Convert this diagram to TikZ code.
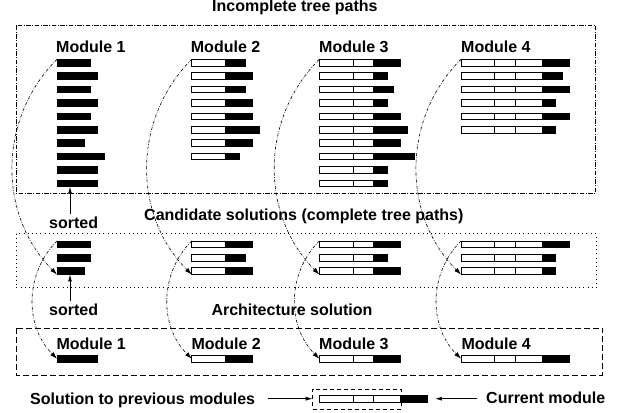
\documentclass[tikz,border=0pt]{standalone}
\usepackage{fontspec}
\setmainfont{Liberation Sans}
\usetikzlibrary{arrows.meta,calc}
\newcommand\un{6.76}
\newcommand\hh{3.38}
\tikzset{
  barnode/.style={draw=black, fill=black, line width=0.8pt, inner sep=0pt, outer sep=0pt,
    minimum height=6.76pt, anchor=west, rectangle},
  wseg/.style={draw=black, fill=white, line width=0.8pt},
  lbl/.style={font=\bfseries\fontsize{16}{19}\selectfont, inner sep=0pt, anchor=base west},
  arcarrow/.style={line width=0.6pt, dash pattern=on 3pt off 1.5pt on 0.6pt off 1.5pt,
    -{Latex[length=7pt,width=4.5pt]}},
  sarrow/.style={line width=0.8pt, -{Latex[length=7pt,width=4pt]}},
  dashdotbox/.style={line width=0.7pt, dash pattern=on 4.5pt off 1.5pt on 1pt off 1.5pt},
  dotbox/.style={line width=0.8pt, dash pattern=on 0.8pt off 3.4pt},
  dashbox/.style={line width=0.8pt, dash pattern=on 6pt off 3pt},
  smalldash/.style={draw, line width=0.7pt, dash pattern=on 4pt off 3pt, inner sep=0pt,
    outer sep=0pt, rectangle},
}
% name, x0, y, nseg, white units, black units
\newcommand\mbar[6]{%
  \pgfmathsetmacro\bw{(#5+#6)*\un}%
  \pgfmathsetmacro\yy{#3}%
  \node[barnode, minimum width=\bw pt] (#1) at (#2,\yy) {};
  \ifcase#4\relax
  \or \draw[wseg] (#2,\yy) ++(0,-\hh) rectangle ++(5*\un,2*\hh);
  \or \draw[wseg] (#2,\yy) ++(0,-\hh) rectangle ++(5*\un,2*\hh) rectangle ++(3*\un,-2*\hh);
  \or \draw[wseg] (#2,\yy) ++(0,-\hh) rectangle ++(5*\un,2*\hh) rectangle ++(3*\un,-2*\hh) rectangle ++(4*\un,2*\hh);
  \fi}
\begin{document}
\begin{tikzpicture}[x=1pt,y=-1pt]
\useasboundingbox (0,0) rectangle (620,412);
% frames
\draw[dashdotbox] (16,25.7) rectangle (595.7,193);
\draw[dotbox] (16,233.5) rectangle (596,287.7);
\draw[dashbox] (16,328.3) rectangle (602.7,375);
\node[smalldash, minimum width=88.3pt, minimum height=20pt] (lbox) at (356.85,399) {};
% texts
\node[lbl] (t1) at (212,11.5) {Incomplete tree paths};
\node[lbl] (h1) at (56,52.7) {Module 1};
\node[lbl] (h2) at (190.7,52.7) {Module 2};
\node[lbl] (h3) at (319,52.7) {Module 3};
\node[lbl] (h4) at (461,52.7) {Module 4};
\node[lbl] (s1) at (49,228) {sorted};
\node[lbl] (t2) at (144,220.7) {Candidate solutions (complete tree paths)};
\node[lbl] (s2) at (49,315) {sorted};
\node[lbl] (t3) at (211.3,315) {Architecture solution};
\node[lbl] (b1) at (56.3,349.3) {Module 1};
\node[lbl] (b2) at (191.3,349.3) {Module 2};
\node[lbl] (b3) at (319,349.3) {Module 3};
\node[lbl] (b4) at (461.3,349.3) {Module 4};
\node[lbl] (lt1) at (30,404) {Solution to previous modules};
\node[lbl] (lt2) at (486,403) {Current module};
% top rows
\foreach \b [count=\k] in {5,6,5,6,5,6,4,7,6,6} {\mbar{m1t\k}{57}{62.7+13.4*(\k-1)}{0}{0}{\b}}
\foreach \b [count=\k] in {3,4,3,4,4,5,4,2} {\mbar{m2t\k}{191.7}{62.7+13.4*(\k-1)}{1}{5}{\b}}
\foreach \b [count=\k] in {4,2,3,2,4,5,4,6,2,2} {\mbar{m3t\k}{319.3}{62.7+13.4*(\k-1)}{2}{8}{\b}}
\foreach \b [count=\k] in {4,3,4,2,4,2} {\mbar{m4t\k}{461}{62.7+13.4*(\k-1)}{3}{12}{\b}}
% candidates
\foreach \b [count=\k] in {5,5,4} {\mbar{m1c\k}{57}{244.3+13.4*(\k-1)}{0}{0}{\b}}
\foreach \b [count=\k] in {4,3,4} {\mbar{m2c\k}{191.7}{244.3+13.4*(\k-1)}{1}{5}{\b}}
\foreach \b [count=\k] in {4,2,4} {\mbar{m3c\k}{319.3}{244.3+13.4*(\k-1)}{2}{8}{\b}}
\foreach \b [count=\k] in {4,2,2} {\mbar{m4c\k}{461}{244.3+13.4*(\k-1)}{3}{12}{\b}}
% solution
\mbar{m1s}{57}{358.7}{0}{0}{6}
\mbar{m2s}{191.7}{358.7}{1}{5}{4}
\mbar{m3s}{319.3}{358.7}{2}{8}{4}
\mbar{m4s}{461}{358.7}{3}{12}{4}
% legend bar
\mbar{lbar}{319.3}{398.7}{3}{12}{4}
% arcs
\foreach \m in {1,...,4} {
  \draw[arcarrow] (m\m t1.north west) to[bend right=45] (m\m c3.south west);
  \draw[arcarrow] (m\m c1.north west) to[bend right=45] (m\m s.west);
}
% sorted arrows
\coordinate (sa1) at (70,214);
\draw[sarrow] (sa1) -- (sa1 |- m1t10.south);
\coordinate (sa2) at (70,301);
\draw[sarrow] (sa2) -- (sa2 |- m1c3.south);
% legend arrows
\coordinate (la) at (268,398.7);
\draw[sarrow] (la) -- (la -| lbox.west);
\coordinate (ra) at (477,398.7);
\draw[sarrow, shorten >=7.5pt] (ra) -- (ra -| lbar.east);
\end{tikzpicture}
\end{document}
